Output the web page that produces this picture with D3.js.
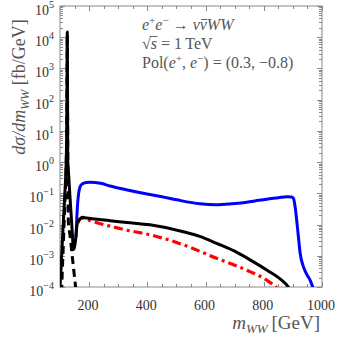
<!DOCTYPE html>
<html><head><meta charset="utf-8">
<script src="https://cdn.jsdelivr.net/npm/d3@7"></script>
<style>body{margin:0;background:#fff}</style>
</head><body>
<svg id="c" width="338" height="340"></svg>
<script>
// ---- data (m_WW in GeV, dσ/dm in fb/GeV) ----
const blueM   = [155,157,160,164,169,176,190,203,220,240,272,320,386,450,501,581,638,690,730,770,810,850,879,895,902,908,913,919,925,936,948,959,968,975];
const blueV   = [0.004,0.011,0.04,0.1,0.162,0.2,0.221,0.226,0.224,0.209,0.172,0.135,0.1,0.078,0.062,0.046,0.043,0.046,0.05,0.057,0.065,0.072,0.078,0.076,0.069,0.035,0.014,0.004,0.0012,0.00045,0.00025,0.000166,0.0001,0.000063];

const solidM  = [96,100,106,112,118,121,123,124,125,126,126.5,130,134,140,143,146,149,152,154,157.6,161,169,176,185,200,272,330,409,524,580,638,700,753,810,867,884,892];
const solidV  = [0.00002,0.0001,0.00115,0.015,0.174,0.79,10,316,14800,63,1.17,0.36,0.085,0.0115,0.004,0.00155,0.00178,0.0025,0.0035,0.0085,0.0123,0.0151,0.017,0.0166,0.0158,0.0133,0.0117,0.0098,0.0059,0.0042,0.0025,0.0014,0.00074,0.00035,0.000148,0.0001,0.00007];

const redM    = [162,168,176,186,200,230,272,330,409,470,524,580,638,700,753,810,845,855];
const redV    = [0.0112,0.0148,0.0162,0.0151,0.0138,0.0112,0.0089,0.0066,0.0047,0.0033,0.00224,0.0014,0.00083,0.0005,0.00031,0.000166,0.0000912,0.00007];

const dashM   = [104,106,112,118,121,123,124,125,126,127,128.6,134.5,141.4,148.3,153.4,156];
const dashV   = [0.000025,0.0001,0.0032,0.1,0.63,10,316,12600,63,1.0,0.0126,0.0044,0.00112,0.00028,0.0001,0.00005];

const xMajor  = [200,400,600,800,1000];
const yDecades = [-4,-3,-2,-1,0,1,2,3,4,5];

// ---- layout ----
const L=60, R=322, T=6, B=287;
const svg = d3.select("#c");
const x = d3.scaleLinear().domain([100,1000]).range([L,R]);
const y = d3.scaleLog().domain([1e-4,1e5]).range([B,T]);
const font = '"Liberation Serif","DejaVu Serif",serif';
const frameCol = "#8a8a8a";

svg.append("clipPath").attr("id","clip").append("rect")
  .attr("x",L).attr("y",T).attr("width",R-L).attr("height",B-T);

// frame
svg.append("rect").attr("x",L).attr("y",T).attr("width",R-L).attr("height",B-T)
  .attr("fill","none").attr("stroke",frameCol).attr("stroke-width",1);

// x ticks (bottom & top)
const xMinor = d3.range(100,1001,50);
const tg = svg.append("g").attr("stroke",frameCol).attr("stroke-width",1);
xMinor.forEach(v=>{
  const len = xMajor.includes(v) ? 5 : 3;
  const px = Math.round(x(v))+0.5;
  tg.append("line").attr("x1",px).attr("x2",px).attr("y1",B).attr("y2",B-len);
  tg.append("line").attr("x1",px).attr("x2",px).attr("y1",T).attr("y2",T+len);
});
// y ticks (left & right)
yDecades.forEach(d=>{
  for(let k=1;k<=9;k++){
    const v = k*Math.pow(10,d);
    if(v>1e5*1.0001) continue;
    const len = k===1 ? 5 : 3;
    const py = Math.round(y(v))+0.5;
    tg.append("line").attr("x1",L).attr("x2",L+len).attr("y1",py).attr("y2",py);
    tg.append("line").attr("x1",R).attr("x2",R-len).attr("y1",py).attr("y2",py);
  }
});

// x tick labels
xMajor.forEach(v=>{
  svg.append("text").attr("x",x(v)-1).attr("y",310)
    .attr("text-anchor","middle").attr("font-family",font).attr("font-size",14)
    .attr("fill","#333").text(v);
});
// y tick labels
yDecades.forEach(d=>{
  const t = svg.append("text").attr("x",54).attr("y",y(Math.pow(10,d))+9)
    .attr("text-anchor","end").attr("font-family",font).attr("font-size",14).attr("fill","#333");
  t.append("tspan").text("10");
  t.append("tspan").attr("dy",-7).attr("font-size",10).text(d<0 ? "\u2212"+(-d) : String(d));
});

// curves
const line = d3.line().x(d=>x(d[0])).y(d=>y(d[1])).curve(d3.curveMonotoneX);
const g = svg.append("g").attr("clip-path","url(#clip)").attr("fill","none");
g.append("path").attr("d",line(d3.zip(blueM,blueV))).attr("stroke","#0000ff").attr("stroke-width",3).attr("stroke-linejoin","round");
g.append("path").attr("d",line(d3.zip(redM,redV))).attr("stroke","#ff0000").attr("stroke-width",3.2).attr("stroke-dasharray","9,4,3,4");
g.append("path").attr("d",line(d3.zip(dashM,dashV))).attr("stroke","#000").attr("stroke-width",3).attr("stroke-dasharray","8,5");
g.append("path").attr("d",line(d3.zip(solidM,solidV))).attr("stroke","#000").attr("stroke-width",3).attr("stroke-linejoin","round");

// axis labels
const xl = svg.append("text").attr("x",320).attr("y",329).attr("text-anchor","end")
  .attr("font-family",font).attr("font-size",19).attr("fill","#555");
xl.append("tspan").attr("font-style","italic").text("m");
xl.append("tspan").attr("font-style","italic").attr("font-size",13).attr("dy",4).text("WW");
xl.append("tspan").attr("dy",-4).text("\u2009[GeV]");

const yl = svg.append("text").attr("transform","translate(25,87) rotate(-90)").attr("text-anchor","middle")
  .attr("font-family",font).attr("font-size",18).attr("fill","#555");
yl.append("tspan").attr("font-style","italic").text("d\u03c3/dm");
yl.append("tspan").attr("font-style","italic").attr("font-size",12).attr("dy",4).text("WW");
yl.append("tspan").attr("dy",-4).text(" [fb/GeV]");

// annotation
const ann = svg.append("g").attr("font-family",font).attr("font-size",16).attr("fill","#555");
const a1 = ann.append("text").attr("x",142).attr("y",30);
a1.append("tspan").attr("font-style","italic").text("e");
a1.append("tspan").attr("font-size",11).attr("dy",-6).text("+");
a1.append("tspan").attr("font-style","italic").attr("dy",6).text("e");
a1.append("tspan").attr("font-size",11).attr("dy",-6).text("\u2212");
a1.append("tspan").attr("dy",6).text(" \u2192 ");
a1.append("tspan").attr("font-style","italic").text("\u03bd\u03bdWW");
const n1 = a1.node();
const nch = n1.getNumberOfChars();
const bi = nch-3; // second nu
const b0 = n1.getStartPositionOfChar(bi).x, b1 = n1.getEndPositionOfChar(bi).x;
ann.append("line").attr("x1",b0+1.5).attr("x2",b1+0.5).attr("y1",19.5).attr("y2",19.5)
  .attr("stroke","#555").attr("stroke-width",0.9);

const a2 = ann.append("text").attr("x",142).attr("y",49);
a2.append("tspan").text("\u221a");
a2.append("tspan").attr("font-style","italic").text("s");
a2.append("tspan").text(" = 1\u2009TeV");
const n2 = a2.node();
const s1 = n2.getEndPositionOfChar(1).x;
const r1 = n2.getEndPositionOfChar(0).x;
ann.append("line").attr("x1",r1-1).attr("x2",s1+0.5).attr("y1",36.5).attr("y2",36.5)
  .attr("stroke","#555").attr("stroke-width",0.9);

const a3 = ann.append("text").attr("x",142).attr("y",68);
a3.append("tspan").text("Pol(");
a3.append("tspan").attr("font-style","italic").text("e");
a3.append("tspan").attr("font-size",11).attr("dy",-6).text("+");
a3.append("tspan").attr("dy",6).text(", ");
a3.append("tspan").attr("font-style","italic").text("e");
a3.append("tspan").attr("font-size",11).attr("dy",-6).text("\u2212");
a3.append("tspan").attr("dy",6).text(") = (0.3, \u22120.8)");
</script>
</body></html>
